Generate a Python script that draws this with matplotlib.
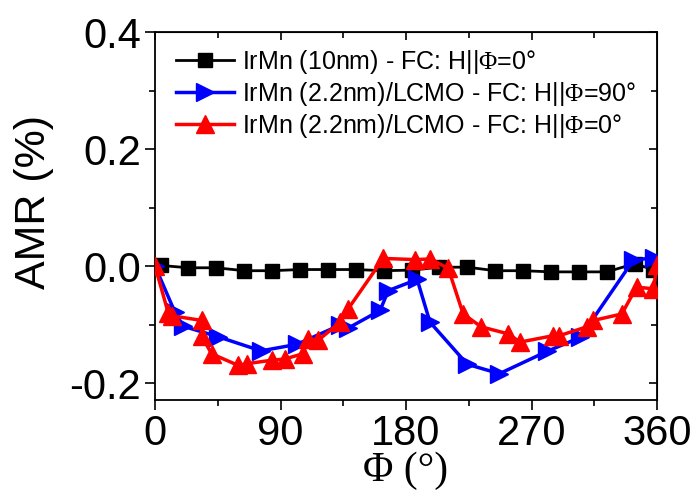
import matplotlib
matplotlib.use("Agg")
import matplotlib.pyplot as plt
from matplotlib.ticker import MultipleLocator, FixedLocator, FixedFormatter

plt.rcParams['font.family'] = ['Liberation Sans', 'DejaVu Sans']
plt.rcParams['mathtext.fontset'] = 'custom'
plt.rcParams['mathtext.rm'] = 'Liberation Serif'
plt.rcParams['axes.unicode_minus'] = False

# Data
black_x = [4, 24, 44, 64, 84, 104, 124, 144, 164, 184, 204, 224, 244, 264, 284, 304, 324, 344, 357]
black_y = [0.001, -0.003, -0.003, -0.008, -0.008, -0.006, -0.006, -0.006, -0.008, -0.007,
           -0.002, -0.002, -0.008, -0.008, -0.010, -0.010, -0.010, 0.004, -0.006]

blue_x = [0, 14.3, 20.3, 45.4, 76, 101.6, 132.7, 138.6, 161.4, 167.3, 188, 197.2, 224, 247, 281, 305, 343, 357.5]
blue_y = [0.0, -0.079, -0.103, -0.121, -0.145, -0.134, -0.101, -0.106, -0.076, -0.042,
          -0.023, -0.096, -0.168, -0.184, -0.146, -0.122, 0.010, 0.014]

red_x = [0, 9.6, 12, 33.5, 33.5, 40.6, 59.8, 65.7, 83.7, 93, 106, 110, 117, 132.7, 138.6, 163.7,
         186.5, 197.5, 210.3, 221, 234, 253.4, 261.8, 285.7, 290, 309.6, 314.4, 334.7, 345.4, 357.4, 360]
red_y = [0.0, -0.081, -0.085, -0.093, -0.120, -0.150, -0.170, -0.167, -0.161, -0.159, -0.150, -0.124,
         -0.127, -0.096, -0.073, 0.013, 0.011, 0.012, -0.004, -0.082, -0.104, -0.116, -0.130, -0.119,
         -0.119, -0.104, -0.093, -0.082, -0.036, -0.039, 0.001]

labels = ['IrMn (10nm) - FC: H||$\\mathrm{\\Phi}$=0°',
          'IrMn (2.2nm)/LCMO - FC: H||$\\mathrm{\\Phi}$=90°',
          'IrMn (2.2nm)/LCMO - FC: H||$\\mathrm{\\Phi}$=0°']

xticks = [0, 90, 180, 270, 360]
yticks = [-0.2, 0.0, 0.2, 0.4]
ytick_labels = ['-0.2', '0.0', '0.2', '0.4']

fig = plt.figure(figsize=(6.97, 4.99), dpi=100)
ax = fig.add_axes([155/697, 1-400/499, (657-155)/697, (400-32)/499])

ax.plot(black_x, black_y, '-', color='black', lw=2, marker='s', ms=9.5, label=labels[0], zorder=3)
ax.plot(blue_x, blue_y, '-', color='#0000ff', lw=2.5, marker='>', ms=12.5, label=labels[1], zorder=4)
ax.plot(red_x, red_y, '-', color='#ff0000', lw=2.5, marker='^', ms=12.5, label=labels[2], zorder=5)

ax.set_xlim(0, 360)
ax.set_ylim(-0.229, 0.4)
ax.xaxis.set_major_locator(FixedLocator(xticks))
ax.xaxis.set_minor_locator(MultipleLocator(45))
ax.yaxis.set_major_locator(FixedLocator(yticks))
ax.yaxis.set_major_formatter(FixedFormatter(ytick_labels))
ax.yaxis.set_minor_locator(MultipleLocator(0.1))

ax.tick_params(axis='both', which='major', labelsize=30, length=7, width=1.2, direction='out', pad=3)
ax.tick_params(axis='both', which='minor', length=4, width=1.2, direction='out')
for s in ax.spines.values():
    s.set_linewidth(1.3)

# mirrored ticks (inward) on top and right
axt = ax.secondary_xaxis('top')
axt.xaxis.set_major_locator(FixedLocator(xticks))
axt.xaxis.set_minor_locator(MultipleLocator(45))
axt.tick_params(which='major', direction='in', length=6, width=1.2, labeltop=False)
axt.tick_params(which='minor', direction='in', length=4, width=1.2)
axr = ax.secondary_yaxis('right')
axr.yaxis.set_major_locator(FixedLocator(yticks))
axr.yaxis.set_minor_locator(MultipleLocator(0.1))
axr.tick_params(which='major', direction='in', length=6, width=1.2, labelright=False)
axr.tick_params(which='minor', direction='in', length=4, width=1.2)

ax.set_ylabel('AMR (%)', fontsize=31)
ax.yaxis.set_label_coords((54-155)/502, (400-202)/368)
ax.set_xlabel('Φ (°)', fontsize=30, family=['Liberation Serif', 'DejaVu Serif'])
ax.xaxis.set_label_coords(0.5, (400-452)/368)

leg = ax.legend(loc='upper left', bbox_to_anchor=((176-155)/502, (400-48)/368), frameon=False,
                fontsize=18, handlelength=2.3, handletextpad=0.35, labelspacing=0.16,
                borderaxespad=0, borderpad=0)

fig.savefig('out.png', dpi=100)
